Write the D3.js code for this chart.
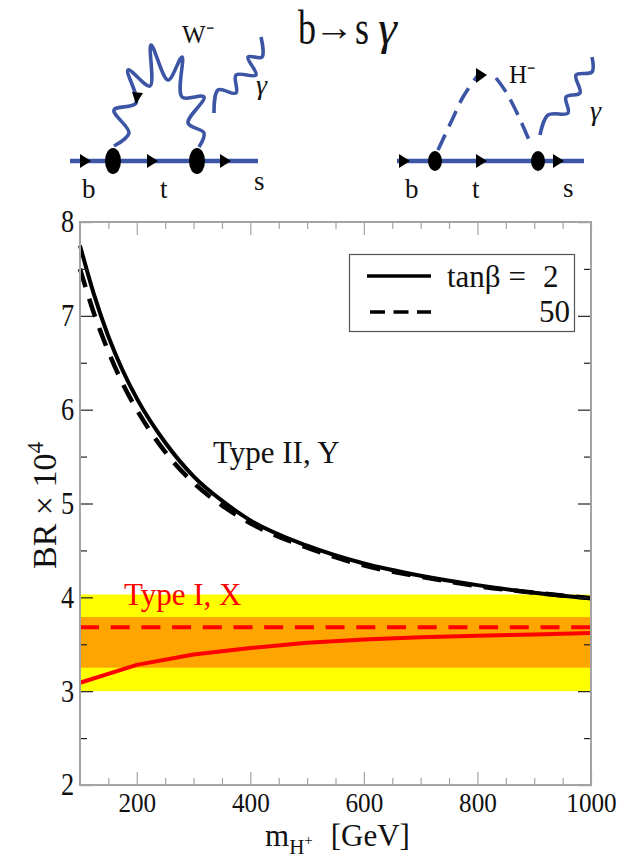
<!doctype html>
<html lang="en">
  <head>
    <meta charset="utf-8" />
    <title>b to s gamma</title>
    <style>
      html, body { margin: 0; padding: 0; background: #fff; }
      svg { display: block; }
      text { font-family: "Liberation Serif", serif; fill: #111; }
    </style>
    <script src="https://d3js.org/d3.v7.min.js"></script>
  </head>
  <body>
    <div id="chart"></div>
    <script>
// values
var masses = [100, 125, 150, 175, 200, 250, 300, 350, 400, 500, 600, 700, 800, 900, 1000];
var typeIITan2 = [7.75, 7.22, 6.78, 6.42, 6.12, 5.65, 5.29, 5.03, 4.82, 4.55, 4.36, 4.23, 4.13, 4.05, 3.99];
var typeIITan50 = [7.5, 7.02, 6.62, 6.28, 6.0, 5.55, 5.22, 4.98, 4.79, 4.53, 4.34, 4.22, 4.12, 4.05, 3.99];

var massesTypeI = [100, 200, 300, 400, 500, 600, 700, 800, 900, 1000];
var typeITan2 = [3.09, 3.28, 3.39, 3.46, 3.515, 3.55, 3.575, 3.59, 3.605, 3.62];
var typeITan50 = [3.68, 3.68, 3.68, 3.68, 3.68, 3.68, 3.68, 3.68, 3.68, 3.68];

var yellowBand = [3.0, 4.03];
var orangeBand = [3.25, 3.79];

var xTicks = [200, 400, 600, 800, 1000];
var xMinorTicks = [150, 250, 300, 350, 450, 500, 550, 650, 700, 750, 850, 900, 950];
var yTicks = [2, 3, 4, 5, 6, 7, 8];
var yMinorTicks = [2.5, 3.5, 4.5, 5.5, 6.5, 7.5];

// feynman diagrams above the plot, in page pixels
var wBoson = [[114,146],[129,133],[114,110],[136,103],[128,70],[150,86],[151,45],[168,80],[182,57],[182,97],[204,97],[188,123],[204,133],[199,147]];
var photonLeft = [[214,113],[218,90],[236,93],[236,75],[256,75],[248,57],[262,57],[261,37]];
var higgsUp = [[438,150],[452,120],[463,97],[478,75]];
var higgsDown = [[496,78],[506,92],[518,115],[532,147]];
var photonRight = [[540,135],[548,115],[568,113],[566,97],[580,93],[576,75],[592,72],[592,57]];

var width = 628, height = 858;
var blue = "#3c55a5", gray = "#a3a3a3";

var svg = d3.select("#chart").append("svg")
    .attr("width", width)
    .attr("height", height);

var x = d3.scaleLinear().domain([100, 1000]).range([80, 591]);
var y = d3.scaleLinear().domain([2, 8]).range([785, 222]);

// bands
function band(b, color) {
  svg.append("rect")
    .attr("x", x(100))
    .attr("width", x(1000) - x(100))
    .attr("y", y(b[1]))
    .attr("height", y(b[0]) - y(b[1]))
    .attr("fill", color);
}
band(yellowBand, "#ffff00");
band(orangeBand, "#ffa500");

// curves
var smooth = d3.line().x(function(d) { return x(d[0]); }).y(function(d) { return y(d[1]); }).curve(d3.curveMonotoneX);
var straight = d3.line().x(function(d) { return x(d[0]); }).y(function(d) { return y(d[1]); });

svg.append("path").attr("d", smooth(d3.zip(masses, typeIITan50)))
  .attr("fill", "none").attr("stroke", "#000").attr("stroke-width", 4.5).attr("stroke-dasharray", "19 12");
svg.append("path").attr("d", smooth(d3.zip(masses, typeIITan2)))
  .attr("fill", "none").attr("stroke", "#000").attr("stroke-width", 4);
svg.append("path").attr("d", straight(d3.zip(massesTypeI, typeITan50)))
  .attr("fill", "none").attr("stroke", "#ff0000").attr("stroke-width", 4).attr("stroke-dasharray", "19 11.7");
svg.append("path").attr("d", straight(d3.zip(massesTypeI, typeITan2)))
  .attr("fill", "none").attr("stroke", "#ff0000").attr("stroke-width", 4);

// axes, all four sides with inward ticks
function drawAxis(axis, dx, dy, color, labels) {
  var g = svg.append("g").attr("transform", "translate(" + dx + "," + dy + ")").call(axis);
  g.selectAll(".tick line").attr("stroke", color).attr("stroke-width", 1.2);
  g.select(".domain").remove();
  if (!labels) g.selectAll("text").remove();
  return g;
}
var f = d3.format("d");
var xb = drawAxis(d3.axisBottom(x).tickValues(xTicks).tickFormat(f).tickSizeInner(-13).tickPadding(7), 0, 785, gray, true);
xb.selectAll("text").attr("font-size", 28).attr("transform", "scale(0.9,1)");
drawAxis(d3.axisBottom(x).tickValues(xMinorTicks).tickSizeInner(-7), 0, 785, gray, false);
drawAxis(d3.axisTop(x).tickValues(xTicks).tickSizeInner(-13), 0, 222, gray, false);
drawAxis(d3.axisTop(x).tickValues(xMinorTicks).tickSizeInner(-7), 0, 222, gray, false);
var yl = drawAxis(d3.axisLeft(y).tickValues(yTicks).tickFormat(f).tickSizeInner(-13).tickPadding(7), 80, 0, "#222", true);
yl.selectAll("text").attr("font-size", 31).attr("transform", "scale(0.85,1)");
drawAxis(d3.axisLeft(y).tickValues(yMinorTicks).tickSizeInner(-7), 80, 0, "#222", false);
drawAxis(d3.axisRight(y).tickValues(yTicks).tickSizeInner(-13), 591, 0, "#222", false);
drawAxis(d3.axisRight(y).tickValues(yMinorTicks).tickSizeInner(-7), 591, 0, "#222", false);

svg.append("rect")
  .attr("x", x(100)).attr("y", y(8))
  .attr("width", x(1000) - x(100)).attr("height", y(2) - y(8))
  .attr("fill", "none").attr("stroke", gray).attr("stroke-width", 2);

// labels inside the plot
svg.append("text").attr("x", 213).attr("y", 463).attr("font-size", 31).text("Type II, Y");
svg.append("text").attr("x", 124).attr("y", 605).attr("font-size", 31).style("fill", "#ff0000").text("Type I, X");

// axis titles
var xt = svg.append("text").attr("x", 265).attr("y", 846).attr("font-size", 31);
xt.append("tspan").text("m");
xt.append("tspan").attr("dy", 8).attr("font-size", 21).text("H");
xt.append("tspan").attr("dy", -9).attr("font-size", 15).text("+");
xt.append("tspan").attr("dy", 1).attr("dx", 18).text("[GeV]");

var yt = svg.append("text").attr("transform", "translate(56,569) rotate(-90)").attr("font-size", 34);
yt.append("tspan").text("BR × 10");
yt.append("tspan").attr("dy", -13).attr("font-size", 23).text("4");

// legend
svg.append("rect").attr("x", 349.5).attr("y", 254.5).attr("width", 225).attr("height", 77)
  .attr("fill", "#fff").attr("stroke", "#555").attr("stroke-width", 1.2);
svg.append("line").attr("x1", 367).attr("x2", 431).attr("y1", 276).attr("y2", 276)
  .attr("stroke", "#000").attr("stroke-width", 3.5);
svg.append("line").attr("x1", 370).attr("x2", 431).attr("y1", 312).attr("y2", 312)
  .attr("stroke", "#000").attr("stroke-width", 3.5).attr("stroke-dasharray", "15 8.5");
svg.append("text").attr("x", 447).attr("y", 287).attr("font-size", 31).text("tanβ =");
svg.append("text").attr("x", 543).attr("y", 287).attr("font-size", 31).text("2");
svg.append("text").attr("x", 570).attr("y", 322).attr("font-size", 31).attr("text-anchor", "end").text("50");

// diagrams
var wavy = d3.line().curve(d3.curveCatmullRom.alpha(0.5));
function diagramPath(points, dash) {
  svg.append("path").attr("d", wavy(points)).attr("fill", "none")
    .attr("stroke", blue).attr("stroke-width", 3.6)
    .attr("stroke-dasharray", dash || null);
}
function fermion(x1, x2, yy, blobs, arrows, rx, ry) {
  svg.append("line").attr("x1", x1).attr("x2", x2).attr("y1", yy).attr("y2", yy)
    .attr("stroke", blue).attr("stroke-width", 4.5);
  blobs.forEach(function(b) {
    svg.append("ellipse").attr("cx", b).attr("cy", yy).attr("rx", rx).attr("ry", ry).attr("fill", "#000");
  });
  arrows.forEach(function(a) {
    svg.append("path").attr("d", "M" + (a - 5) + "," + (yy - 7) + "L" + (a + 6) + "," + yy + "L" + (a - 5) + "," + (yy + 7) + "Z").attr("fill", "#000");
  });
}
diagramPath(wBoson);
diagramPath(photonLeft);
diagramPath(higgsUp, "17 9");
diagramPath(higgsDown, "17 9");
diagramPath(photonRight);
fermion(70, 258, 161, [113, 197], [85, 152, 225], 8, 13);
fermion(397, 584, 161, [435, 538], [404, 481, 558], 7, 10);
svg.append("path").attr("d", "M132,92L143,93L136,104Z").attr("fill", "#000");
svg.append("path").attr("d", "M476,68L487,75L476,83Z").attr("fill", "#000");

function small(tx, ty, s, size, italic) {
  return svg.append("text").attr("x", tx).attr("y", ty).attr("font-size", size)
    .attr("font-style", italic ? "italic" : null).text(s);
}
small(82, 198, "b", 27);
small(160, 198, "t", 27);
small(254, 190, "s", 27);
small(405, 198, "b", 27);
small(472, 198, "t", 27);
small(563, 197, "s", 27);
small(182, 43, "W⁻", 25);
small(509, 83, "H⁻", 25);
small(256, 94, "γ", 28, true);
small(590, 120, "γ", 28, true);

// title, stretched tall like the picture
function titlePart(tx, ty, s, size, sx, italic) {
  return svg.append("text").attr("transform", "translate(" + tx + "," + ty + ") scale(" + sx + ",1)")
    .attr("font-size", size).attr("font-style", italic ? "italic" : null).text(s);
}
titlePart(298, 44, "b", 48, 0.75);
titlePart(314, 40, "→", 38, 1.05).attr("font-weight", "bold");
titlePart(355, 44, "s", 48, 0.75);
titlePart(378, 44, "γ", 48, 1, true);
    </script>
  </body>
</html>
